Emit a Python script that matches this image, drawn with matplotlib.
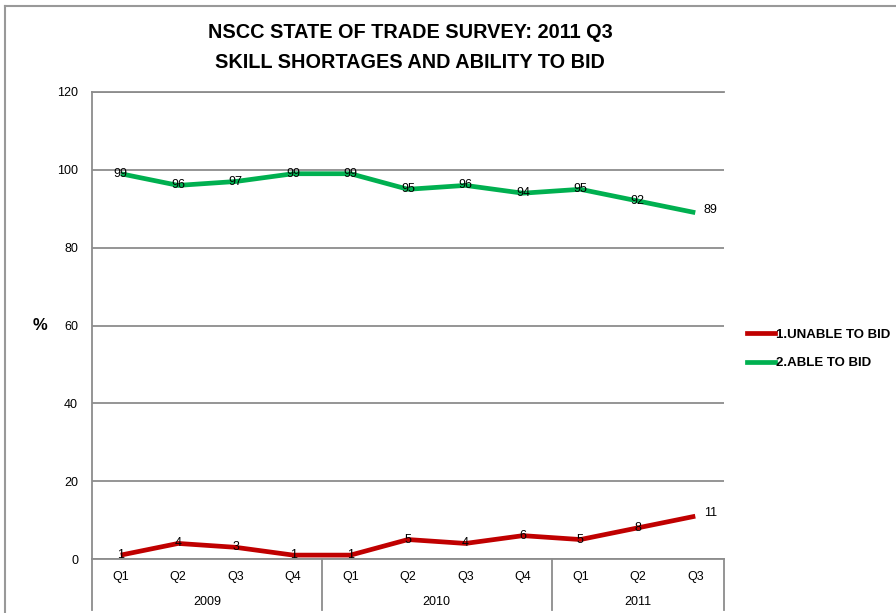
import matplotlib
matplotlib.use("Agg")
import matplotlib.pyplot as plt
from matplotlib.lines import Line2D

quarters = ["Q1", "Q2", "Q3", "Q4", "Q1", "Q2", "Q3", "Q4", "Q1", "Q2", "Q3"]
years = ["2009", "2010", "2011"]
year_sizes = [4, 4, 3]
unable_to_bid = [1, 4, 3, 1, 1, 5, 4, 6, 5, 8, 11]
able_to_bid = [99, 96, 97, 99, 99, 95, 96, 94, 95, 92, 89]

RED = "#C00000"
GREEN = "#00B050"
GRID = "#8C8C8C"
FONT = ["Liberation Sans Narrow", "Liberation Sans", "DejaVu Sans"]

plt.rcParams["font.family"] = FONT

fig = plt.figure(figsize=(8.96, 6.13), dpi=100)
ax = fig.add_axes([92 / 896, 54 / 613, 632 / 896, 467 / 613])

x = list(range(len(quarters)))
ax.plot(x, unable_to_bid, color=RED, linewidth=3.4, solid_capstyle="butt", zorder=3)
ax.plot(x, able_to_bid, color=GREEN, linewidth=3.4, solid_capstyle="butt", zorder=3)

# data labels: centred on the point, last point placed to the right
for series in (unable_to_bid, able_to_bid):
    for i, v in enumerate(series):
        if i == len(series) - 1:
            ax.annotate(str(v), (i, v), xytext=(6, 2), textcoords="offset points",
                        ha="left", va="center", fontsize=9, zorder=4)
        else:
            ax.text(i, v, str(v), ha="center", va="center", fontsize=9, zorder=4)

ax.set_xlim(-0.5, len(quarters) - 0.5)
ax.set_ylim(0, 120)
ax.set_yticks(range(0, 121, 20))
ax.tick_params(axis="y", length=0, pad=10, labelsize=9)
ax.set_xticks([])
ax.yaxis.grid(True, color=GRID, linewidth=1.3)
ax.set_axisbelow(True)
for side in ("top", "right"):
    ax.spines[side].set_visible(False)
ax.spines["left"].set_color(GRID)
ax.spines["left"].set_linewidth(1.3)
ax.spines["bottom"].set_color(GRID)
ax.spines["bottom"].set_linewidth(1.3)
ax.plot([-0.5, len(quarters) - 0.5], [120, 120], color=GRID, linewidth=1.3, clip_on=False)

# two-level category axis: quarters, then years with separators
trans = ax.get_xaxis_transform()
for i, q in enumerate(quarters):
    ax.text(i, -0.038, q, transform=trans, ha="center", va="center", fontsize=9)
start = -0.5
bounds = [start]
for yr, n in zip(years, year_sizes):
    ax.text(start + n / 2, -0.092, yr, transform=trans, ha="center", va="center", fontsize=9)
    start += n
    bounds.append(start)
for b in bounds:
    ax.plot([b, b], [0, -0.11], transform=trans, color=GRID, linewidth=1.3, clip_on=False)

fig.text(40 / 896, 1 - 325 / 613, "%", fontsize=12, fontweight="bold", ha="center", va="center")

fig.text(410 / 896, 1 - 32 / 613, "NSCC STATE OF TRADE SURVEY: 2011 Q3",
         fontsize=14.3, fontweight="bold", ha="center", va="center")
fig.text(410 / 896, 1 - 62 / 613, "SKILL SHORTAGES AND ABILITY TO BID",
         fontsize=14.3, fontweight="bold", ha="center", va="center")

handles = [Line2D([], [], color=RED, linewidth=3.4, label="1.UNABLE TO BID"),
           Line2D([], [], color=GREEN, linewidth=3.4, label="2.ABLE TO BID")]
fig.legend(handles=handles, loc="center left", bbox_to_anchor=(735 / 896, 1 - 349 / 613),
           frameon=False, prop={"weight": "bold", "size": 9.5}, handlelength=2.1,
           handletextpad=0.1, labelspacing=1.25)

# outer chart frame (left and top edges)
fig.add_artist(Line2D([5 / 896, 5 / 896], [0, 1 - 6 / 613], color="#999999", linewidth=1.5))
fig.add_artist(Line2D([5 / 896, 1], [1 - 6 / 613, 1 - 6 / 613], color="#999999", linewidth=1.5))

fig.savefig("out.png", dpi=100)
